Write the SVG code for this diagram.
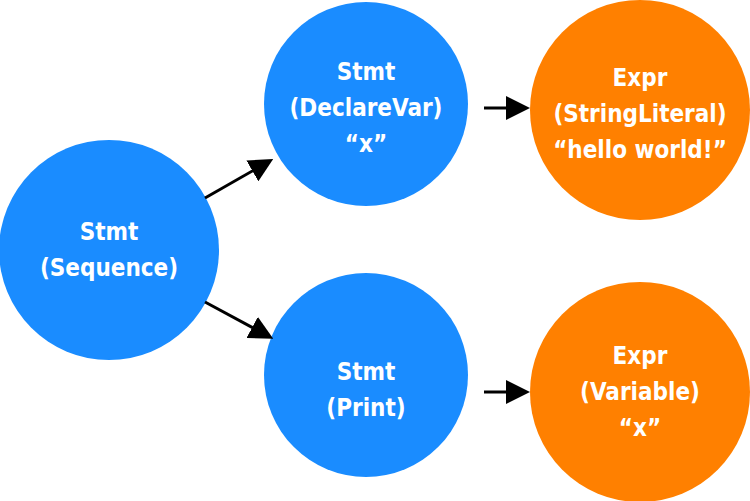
<svg xmlns="http://www.w3.org/2000/svg" width="750" height="501" viewBox="0 0 750 501">
<style>
.b{fill:#1a8cff}.o{fill:#ff8000}
text{fill:#fff;font-family:"DejaVu Sans Condensed","Liberation Sans",sans-serif;font-weight:bold;font-size:24px;text-anchor:middle;font-stretch:condensed}
.c line{stroke:#000;stroke-width:3;marker-end:url(#a)}
</style>
<defs><marker id="a" markerWidth="8" markerHeight="8" refX="6" refY="4" orient="auto" markerUnits="strokeWidth"><path d="M0,0 L8,4 L0,8 z" fill="#000"/></marker></defs>
<rect width="750" height="501" fill="#fff"/>
<g id="seq"><circle class="b" cx="109" cy="250" r="110"/><text x="109" y="240">Stmt</text><text x="109" y="276">(Sequence)</text></g>
<g id="decl"><circle class="b" cx="366" cy="104" r="102"/><text x="366" y="80">Stmt</text><text x="366" y="116">(DeclareVar)</text><text x="366" y="152">“x”</text></g>
<g id="str"><circle class="o" cx="640" cy="110" r="110"/><text x="640" y="86">Expr</text><text x="640" y="122">(StringLiteral)</text><text x="640" y="158">“hello world!”</text></g>
<g id="print"><circle class="b" cx="366" cy="375" r="102"/><text x="366" y="380">Stmt</text><text x="366" y="416">(Print)</text></g>
<g id="var"><circle class="o" cx="640" cy="392" r="110"/><text x="640" y="364">Expr</text><text x="640" y="400">(Variable)</text><text x="640" y="436">“x”</text></g>
<g class="c">
<line x1="205" y1="198" x2="268" y2="162"/>
<line x1="205" y1="302" x2="268" y2="336"/>
<line x1="484" y1="108" x2="524" y2="108"/>
<line x1="484" y1="392" x2="524" y2="392"/>
</g>
</svg>
